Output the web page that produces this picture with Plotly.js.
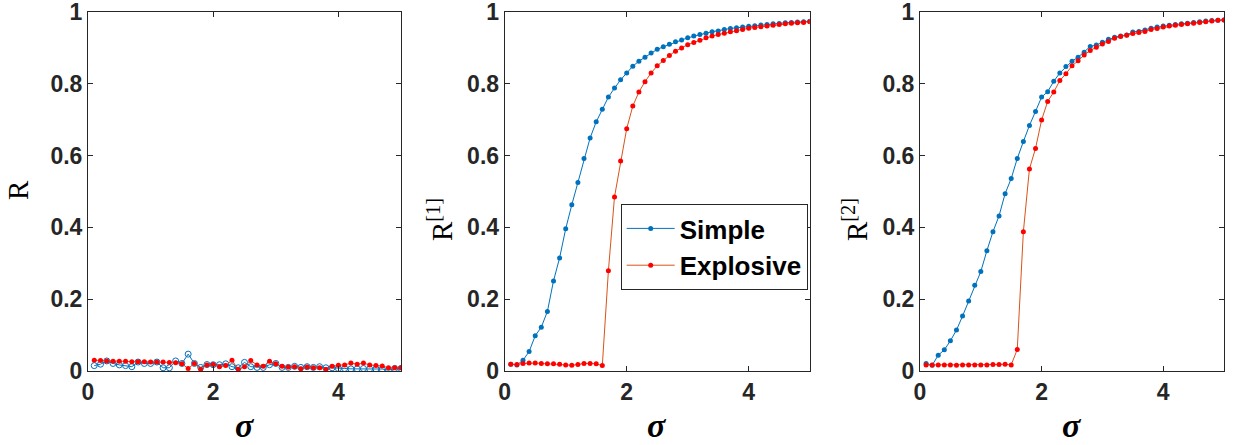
<!DOCTYPE html>
<html>
<head>
<meta charset="utf-8">
<script src="https://cdn.plot.ly/plotly-3.0.1.min.js"></script>
<style>html,body{margin:0;padding:0;background:#fff;}#chart{width:1239px;height:445px;}</style>
</head>
<body>
<div id="chart"></div>
<script>
// sigma values 0.1 ... 5.0
const sigma = [0.1,0.2,0.3,0.4,0.5,0.6,0.7,0.8,0.9,1.0,1.1,1.2,1.3,1.4,1.5,1.6,1.7,1.8,1.9,2.0,
  2.1,2.2,2.3,2.4,2.5,2.6,2.7,2.8,2.9,3.0,3.1,3.2,3.3,3.4,3.5,3.6,3.7,3.8,3.9,4.0,
  4.1,4.2,4.3,4.4,4.5,4.6,4.7,4.8,4.9,5.0];

// Panel 1: R
const r0Simple = [0.015,0.019,0.028,0.021,0.017,0.015,0.012,0.025,0.021,0.021,0.025,0.009,0.009,0.028,0.021,0.047,0.021,0.010,0.018,0.0175,
  0.0175,0.020,0.012,0.009,0.024,0.012,0.010,0.010,0.0175,0.021,0.010,0.010,0.013,0.010,0.012,0.010,0.012,0.009,0.009,0.007,
  0.007,0.006,0.006,0.007,0.006,0.006,0.0055,0.002,0.007,0.007];
const r0Explosive = [0.030,0.029,0.028,0.027,0.027,0.027,0.026,0.026,0.026,0.025,0.025,0.025,0.024,0.023,0.020,0.007,0.021,0.005,0.017,0.018,
  0.012,0.015,0.030,0.005,0.012,0.029,0.017,0.013,0.027,0.020,0.013,0.011,0.012,0.006,0.011,0.009,0.009,0.004,0.013,0.016,
  0.017,0.022,0.019,0.022,0.017,0.015,0.014,0.009,0.009,0.009];

// Panel 2: R^[1]
const r1Simple = [0.019,0.017,0.030,0.054,0.098,0.122,0.166,0.251,0.315,0.396,0.463,0.525,0.592,0.649,0.694,0.729,0.763,0.788,0.811,0.830,
  0.849,0.863,0.874,0.886,0.896,0.903,0.910,0.917,0.922,0.928,0.933,0.937,0.941,0.945,0.947,0.951,0.954,0.956,0.958,0.960,
  0.962,0.964,0.965,0.967,0.968,0.970,0.971,0.972,0.973,0.974];
const r1Explosive = [0.019,0.018,0.021,0.022,0.022,0.021,0.020,0.020,0.019,0.017,0.016,0.018,0.021,0.021,0.020,0.015,0.279,0.485,0.585,0.675,
  0.738,0.777,0.806,0.830,0.850,0.865,0.879,0.891,0.900,0.909,0.915,0.921,0.928,0.933,0.937,0.941,0.945,0.948,0.951,0.955,
  0.957,0.959,0.961,0.963,0.965,0.967,0.969,0.970,0.971,0.973];

// Panel 3: R^[2]
const r2Simple = [0.021,0.016,0.044,0.059,0.084,0.114,0.153,0.195,0.239,0.277,0.335,0.388,0.432,0.494,0.536,0.592,0.639,0.684,0.723,0.763,
  0.778,0.807,0.830,0.848,0.863,0.874,0.888,0.904,0.908,0.916,0.924,0.930,0.933,0.936,0.944,0.946,0.950,0.955,0.958,0.961,
  0.963,0.965,0.967,0.969,0.971,0.973,0.975,0.976,0.977,0.978];
const r2Explosive = [0.017,0.017,0.017,0.017,0.017,0.016,0.017,0.017,0.017,0.017,0.017,0.018,0.018,0.019,0.017,0.060,0.388,0.563,0.620,0.699,
  0.751,0.777,0.809,0.828,0.850,0.864,0.880,0.893,0.902,0.911,0.918,0.927,0.932,0.935,0.940,0.943,0.946,0.951,0.954,0.958,
  0.961,0.963,0.965,0.967,0.969,0.971,0.973,0.975,0.977,0.978];

const xTicks = [0,2,4];
const yTicks = [0,0.2,0.4,0.6,0.8,1];
const yTickText = ['0','0.2','0.4','0.6','0.8','1'];
const seriesNames = ['Simple','Explosive'];
const yTitles = ['R','R<sup>[1]</sup>','R<sup>[2]</sup>'];
const xTitle = '<b><i>σ</i></b>';

const BLUE = '#0072BD', REDLINE = '#D95319', REDMK = '#FF0000';
const panels = [[r0Simple,r0Explosive],[r1Simple,r1Explosive],[r2Simple,r2Explosive]];
const traces = [];
panels.forEach((p,i)=>{
  const ax = i===0?'':String(i+1);
  traces.push({x:sigma,y:p[0],type:'scatter',mode:'lines+markers',name:seriesNames[0],
    xaxis:'x'+ax,yaxis:'y'+ax,showlegend:i===1,
    line:{color:BLUE,width:1},
    marker: i===0 ? {symbol:'circle-open',size:6,color:BLUE,line:{width:1,color:BLUE}} : {symbol:'circle',size:5,color:BLUE}});
  traces.push({x:sigma,y:p[1],type:'scatter',mode:'lines+markers',name:seriesNames[1],
    xaxis:'x'+ax,yaxis:'y'+ax,showlegend:i===1,
    line:{color:REDLINE,width:1},
    marker:{symbol:'circle',size:5,color:REDMK}});
});

const W=1239,H=445;
const xdom = [[88/W,401/W],[504.7/W,809.7/W],[920/W,1224/W]];
const ydom = [1-371/H, 1-12/H];
const tickFont = {family:'Liberation Sans, Arial, sans-serif',size:23,color:'#262626'};
const layout = {width:W,height:H,margin:{l:0,r:0,t:0,b:0},paper_bgcolor:'#fff',plot_bgcolor:'#fff',
  showlegend:true,
  legend:{x:620.7/W,y:1-204/H,xanchor:'left',yanchor:'top',bgcolor:'#fff',bordercolor:'#262626',borderwidth:1,
    itemwidth:48,font:{family:'Liberation Sans, Arial, sans-serif',size:26,color:'#000',weight:'bold'},tracegroupgap:0},
  annotations:[]};
for(let i=0;i<3;i++){
  const ax = i===0?'':String(i+1);
  layout['xaxis'+ax] = {domain:xdom[i],range:[0,5],tickvals:xTicks,ticktext:xTicks.map(String),
    ticks:'inside',ticklen:5,tickcolor:'#262626',showline:true,linecolor:'#262626',linewidth:1,mirror:'ticks',
    ticklabeloverflow:'allow',
    showgrid:false,zeroline:false,tickfont:Object.assign({weight:'bold'},tickFont),anchor:'y'+ax,fixedrange:true};
  layout['yaxis'+ax] = {domain:ydom,range:[0,1],tickvals:yTicks,ticktext:yTickText,
    ticks:'inside',ticklen:5,tickcolor:'#262626',showline:true,linecolor:'#262626',linewidth:1,mirror:'ticks',
    ticklabeloverflow:'allow',
    showgrid:false,zeroline:false,tickfont:Object.assign({weight:'bold'},tickFont),anchor:'x'+ax,fixedrange:true};
  const cx = (xdom[i][0]+xdom[i][1])/2;
  layout.annotations.push({text:xTitle,xref:'paper',yref:'paper',x:cx,y:1-425/H,xanchor:'center',yanchor:'middle',
    showarrow:false,font:{family:'Liberation Serif, Times New Roman, serif',size:34,color:'#000'}});
  const ly = [18,440,855][i];
  layout.annotations.push({text:yTitles[i],xref:'paper',yref:'paper',x:ly/W,y:1-(i===0?190:220)/H,xanchor:'center',yanchor:'middle',
    textangle:-90,showarrow:false,font:{family:'Liberation Serif, Times New Roman, serif',size:29,color:'#000'}});
}
Plotly.newPlot('chart',traces,layout,{displayModeBar:false,staticPlot:true});
</script>
</body>
</html>
